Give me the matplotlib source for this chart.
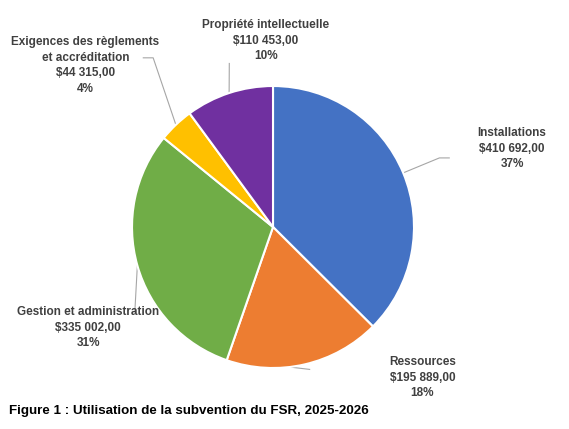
import numpy as np
import matplotlib.pyplot as plt

categories = ['Installations', 'Ressources', 'Gestion et administration',
              'Exigences des règlements\net accréditation', 'Propriété intellectuelle']
amounts = [410692, 195889, 335002, 44315, 110453]
amount_labels = ['$410 692,00', '$195 889,00', '$335 002,00', '$44 315,00', '$110 453,00']
colors = ['#4472C4', '#ED7D31', '#70AD47', '#FFC000', '#7030A0']

narrow = ['Liberation Sans Narrow', 'Liberation Sans', 'DejaVu Sans']

fig = plt.figure(figsize=(5.69, 4.29), dpi=100, facecolor='white')
ax = fig.add_axes([0.2320, 0.1422, 0.4956, 0.6573])
wedges, _ = ax.pie(amounts, colors=colors, startangle=90, counterclock=False,
                   radius=1, wedgeprops=dict(edgecolor='white', linewidth=1.5))
ax.set_xlim(-1, 1)
ax.set_ylim(-1, 1)
ax.set_aspect('equal')
ax.axis('off')

total = sum(amounts)
# text position, leader start override, elbow points (data units, pie radius = 1)
text_pos = [(1.695, 0.555), (1.06, -1.07), (-1.31, -0.715), (-1.33, 1.145), (-0.05, 1.32)]
starts = [None, (0.05, -0.985), None, None, None]
elbows = [[(1.18, 0.49), (1.25, 0.49)],
          [(0.26, -1.01)],
          [(-0.98, -0.60)],
          [(-0.85, 1.20), (-0.92, 1.20)],
          [(-0.31, 1.16)]]

for w, cat, lab, amt, tp, st, el in zip(wedges, categories, amount_labels, amounts,
                                         text_pos, starts, elbows):
    mid = np.deg2rad((w.theta1 + w.theta2) / 2)
    x0, y0 = (np.cos(mid), np.sin(mid)) if st is None else st
    xs = [x0] + [p[0] for p in el]
    ys = [y0] + [p[1] for p in el]
    ax.plot(xs, ys, color='#A6A6A6', lw=0.8, clip_on=False, zorder=0)
    pct = f'{round(100 * amt / total)}%'
    ax.text(tp[0], tp[1], f'{cat}\n{lab}\n{pct}', ha='center', va='center',
            fontsize=8.5, fontweight='bold', color='#404040', family=narrow,
            linespacing=1.4)

fig.text(0.016, 0.042, 'Figure 1 : Utilisation de la subvention du FSR, 2025-2026',
         fontsize=9.6, fontweight='bold', color='black',
         family=['Liberation Sans', 'DejaVu Sans'], ha='left', va='center')

fig.savefig('out.png', dpi=100)
